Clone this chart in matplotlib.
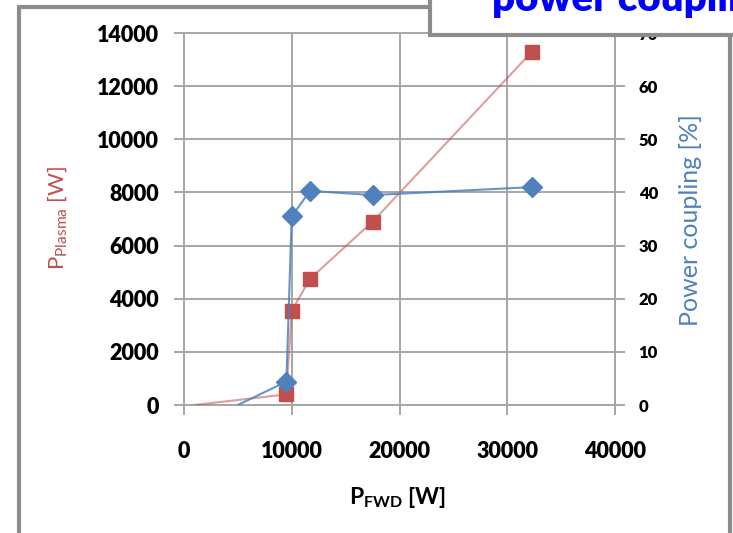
import matplotlib
matplotlib.use("Agg")
import matplotlib.pyplot as plt
from matplotlib.patches import Rectangle

plt.rcParams['font.family'] = ['Lato', 'DejaVu Sans']
plt.rcParams['mathtext.fontset'] = 'custom'
plt.rcParams['mathtext.rm'] = 'Lato'
plt.rcParams['mathtext.bf'] = 'Lato:bold'

# ---------- data ----------
p_fwd_plasma = [1000, 9500, 10000, 11700, 17500, 32300]
p_plasma     = [0, 400, 3550, 4750, 6900, 13300]

p_fwd_coupling = [5000, 9500, 10000, 11700, 17500, 32300]
coupling       = [0, 4.4, 35.5, 40.3, 39.5, 41.0]

x_ticks  = [0, 10000, 20000, 30000, 40000]
yl_ticks = list(range(0, 14001, 2000))
yr_ticks = list(range(0, 71, 10))

RED   = '#C0504D'
BLUE  = '#4F81BD'
GRID  = '#A6A6A6'

fig = plt.figure(figsize=(7.33, 5.33), dpi=100)
ax = fig.add_axes([184/733, 1-405/533, (615-184)/733, (405-33)/533])

ax.plot(p_fwd_plasma, p_plasma, color=RED, alpha=0.55, lw=1.5, zorder=3)
ax.plot(p_fwd_plasma[1:], p_plasma[1:], ls='none', marker='s', ms=9.5,
        color=RED, zorder=4)

ax.set_xlim(0, 40000)
ax.set_ylim(0, 14000)
ax.set_xticks(x_ticks)
ax.set_yticks(yl_ticks)
ax.grid(True, color=GRID, lw=1.4)
ax.set_axisbelow(True)
for s in ax.spines.values():
    s.set_color(GRID)
    s.set_linewidth(1.4)
ax.tick_params(axis='both', colors=GRID, length=7, width=1.4,
               labelcolor='black', labelsize=15.5)
ax.tick_params(axis='y', pad=11)
ax.tick_params(axis='x', pad=19)
for lab in ax.get_xticklabels() + ax.get_yticklabels():
    lab.set_fontweight('heavy')

ax2 = ax.twinx()
ax2.plot(p_fwd_coupling, coupling, color=BLUE, alpha=0.85, lw=1.5, zorder=3)
ax2.plot(p_fwd_coupling[1:], coupling[1:], ls='none', marker='D', ms=10.5,
         color=BLUE, zorder=4)
ax2.set_ylim(0, 70)
ax2.set_yticks(yr_ticks)
for s in ax2.spines.values():
    s.set_visible(False)
ax2.tick_params(axis='y', colors=GRID, length=7, width=1.4,
                labelcolor='black', labelsize=12, pad=10)
for lab in ax2.get_yticklabels():
    lab.set_fontweight('heavy')

fig.text(58/733, 1-218/533, r'P$_{\mathregular{Plasma}}$ [W]', color=RED,
         rotation=90, ha='center', va='center', fontsize=16)
fig.text(690/733, 1-220/533, 'Power coupling [%]', color=BLUE,
         rotation=90, ha='center', va='center', fontsize=18)
fig.text(398/733, 1-497/533, r'$\mathbf{P}_{\mathbf{FWD}}$ [W]',
         ha='center', va='center', fontsize=16.5, fontweight='bold')

# outer frame and the clipped title box
fig.patches.append(Rectangle((19/733, -0.1), (730-19)/733, 1.1-7.5/533,
                             transform=fig.transFigure, fill=False,
                             ec='#8C8C8C', lw=3, zorder=1))
fig.patches.append(Rectangle((429.5/733, 1-35/533), 0.6, 0.2,
                             transform=fig.transFigure, fc='white',
                             ec='#8C8C8C', lw=3, zorder=10))
fig.text(492/733, 1-10/533, 'power coupling', color='#0000FF',
         fontsize=29, fontweight='heavy', va='baseline', ha='left', zorder=11)

fig.savefig('out.png', dpi=100)
